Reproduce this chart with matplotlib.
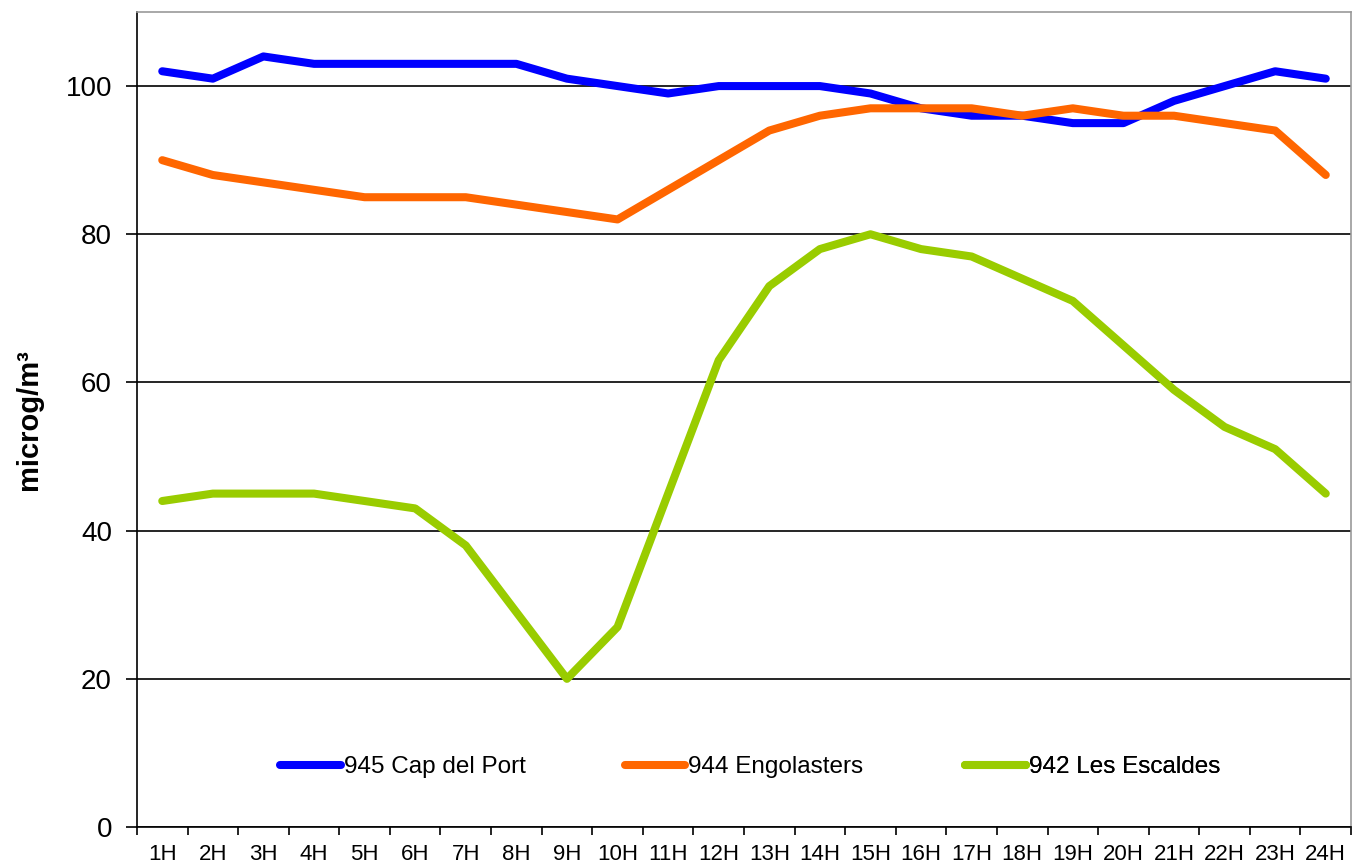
import matplotlib
matplotlib.use('Agg')
import matplotlib.pyplot as plt
import numpy as np

hours = ['1H', '2H', '3H', '4H', '5H', '6H', '7H', '8H', '9H', '10H', '11H', '12H',
         '13H', '14H', '15H', '16H', '17H', '18H', '19H', '20H', '21H', '22H', '23H', '24H']
cap_del_port = [102, 101, 104, 103, 103, 103, 103, 103, 101, 100, 99, 100,
                100, 100, 99, 97, 96, 96, 95, 95, 98, 100, 102, 101]
engolasters = [90, 88, 87, 86, 85, 85, 85, 84, 83, 82, 86, 90,
               94, 96, 97, 97, 97, 96, 97, 96, 96, 95, 94, 88]
les_escaldes = [44, 45, 45, 45, 44, 43, 38, 29, 20, 27, 45, 63,
                73, 78, 80, 78, 77, 74, 71, 65, 59, 54, 51, 45]

series = [('945 Cap del Port', cap_del_port, '#0000FF'),
          ('944 Engolasters', engolasters, '#FF6600'),
          ('942 Les Escaldes', les_escaldes, '#99CC00')]

plt.rcParams['font.family'] = ['Liberation Sans', 'DejaVu Sans']

fig = plt.figure(figsize=(13.52, 8.68), dpi=100)
ax = fig.add_axes([0.1013, 0.0472, 0.8980, 0.9390])

x = np.arange(len(hours))
lines = []
for name, vals, col in series:
    ln, = ax.plot(x, vals, color=col, lw=5.8, solid_capstyle='round',
                  solid_joinstyle='round', label=name, zorder=3)
    lines.append(ln)

ax.set_xlim(-0.5, len(hours) - 0.5)
ax.set_ylim(0, 110)
ax.set_yticks([0, 20, 40, 60, 80, 100])
ax.yaxis.grid(True, color='black', lw=1.2)
ax.set_axisbelow(True)

ax.set_xticks(x)
ax.set_xticklabels(hours, fontsize=16)
ax.set_xticks(np.arange(-0.5, len(hours)), minor=True)
ax.tick_params(axis='x', which='major', length=0, pad=12)
ax.tick_params(axis='x', which='minor', length=6, width=1.2, direction='out')
ax.tick_params(axis='y', length=8, width=1.2, labelsize=20, pad=10)

for s in ['left', 'bottom']:
    ax.spines[s].set_color('black')
    ax.spines[s].set_linewidth(1.2)
for s in ['top', 'right']:
    ax.spines[s].set_color('#999999')
    ax.spines[s].set_linewidth(1.2)

ax.set_ylabel('microg/m³', fontsize=21, fontweight='bold', labelpad=16)

# legend entries laid out at equal widths like the original
starts = [0.1177, 0.4016, 0.6823]
for ln, xs in zip(lines, starts):
    leg = ax.legend([ln], [ln.get_label()], loc='center left', bbox_to_anchor=(xs, 0.0736),
                    frameon=False, fontsize=17.5, handlelength=2.5, handletextpad=0.12,
                    borderpad=0, borderaxespad=0)
    ax.add_artist(leg)

fig.savefig('out.png', dpi=100)
